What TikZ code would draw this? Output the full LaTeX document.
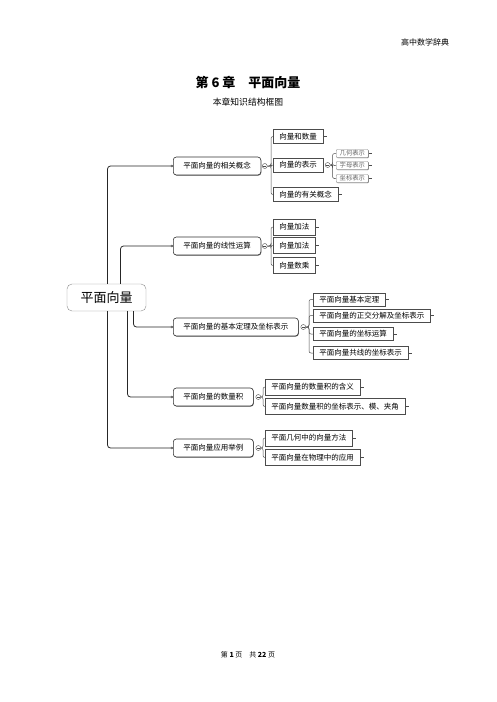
\documentclass[tikz,border=0pt]{standalone}
\usepackage{fontspec}
\setmainfont{Noto Sans CJK SC}
\usetikzlibrary{arrows.meta,shadows,positioning}

\begin{document}
\begin{tikzpicture}[x=1pt, y=-1pt,
    root/.style={draw=black!45, rounded corners=5pt, fill=white, minimum width=79pt, minimum height=27pt, inner sep=0pt, font=\fontsize{13}{14}\selectfont},
    topic/.style={draw=black!80, line width=.6pt, rounded corners=3pt, fill=white, anchor=west, inner xsep=10pt, minimum height=18pt, font=\fontsize{7.5}{8}\selectfont, drop shadow={shadow xshift=.5pt, shadow yshift=-.6pt, fill=black!60, opacity=1}},
    item/.style={draw=black!70, line width=.5pt, fill=white, anchor=west, inner xsep=6pt, minimum height=14pt, inner ysep=0pt, font=\fontsize{7.5}{8}\selectfont, drop shadow={shadow xshift=.6pt, shadow yshift=-.6pt, fill=black!75, opacity=1}},
    leaf/.style={draw=black!50, line width=.4pt, rounded corners=1pt, fill=white, anchor=west, inner xsep=3.5pt, inner ysep=0pt, minimum height=8pt, text=black!60, font=\fontsize{6.3}{7}\selectfont, drop shadow={shadow xshift=.5pt, shadow yshift=-.5pt, fill=black!60, opacity=1}},
    marker/.style={circle, draw=black!70, line width=.4pt, fill=white, minimum size=5pt, inner sep=0pt, path picture={\draw[black!70, line width=.4pt] ([xshift=1pt]path picture bounding box.west) -- ([xshift=-1pt]path picture bounding box.east);}},
    branch/.style={draw=black!85, line width=.8pt, rounded corners=3pt, -{Circle[open, length=2.4pt, width=2.4pt, line width=.4pt]}},
    link/.style={draw=black!70, line width=.5pt, rounded corners=2pt},
    stub/.style={draw=black!70, line width=.5pt}]
    \useasboundingbox (0,0) rectangle (496,702);

    % page texts
    \node (header) at (425,42) {\fontsize{8}{9}\selectfont 高中数学辞典};
    \node (title) at (248,82) {\fontsize{13}{14}\selectfont\bfseries 第 6 章\quad 平面向量};
    \node (subtitle) [below=3pt of title] {\fontsize{8.8}{10}\selectfont 本章知识结构框图};
    \node (footer) at (248,655) {\fontsize{7}{8}\selectfont 第 \textbf{1} 页\quad 共 \textbf{22} 页};

    % root and main topics
    \node [root] (root) at (106.5,297.5) {平面向量};
    \node [topic] (gainian) at (173,166) {平面向量的相关概念};
    \node [topic] (xianxing) at (173,246) {平面向量的线性运算};
    \node [topic] (dingli) at (173,327) {平面向量的基本定理及坐标表示};
    \node [topic] (shuliang) at (173,397) {平面向量的数量积};
    \node [topic] (yingyong) at (173,448) {平面向量应用举例};

    % lines from the root
    \path [branch] ([xshift=1pt]root.north) |- (gainian.west);
    \path [branch] ([xshift=14pt]root.north) |- (xianxing.west);
    \path [branch] ([xshift=27pt]root.south) |- (dingli.west);
    \path [branch] ([xshift=21pt]root.south) |- (shuliang.west);
    \path [branch] ([xshift=1pt]root.south) |- (yingyong.west);

    % sub topics
    \node [item] (hesl) at (273,136.5) {向量和数量};
    \node [item] (biaoshi) at (273,165) {向量的表示};
    \node [item] (youguan) at (273,194.5) {向量的有关概念};
    \node [leaf] (jihe) at (336,153.5) {几何表示};
    \node [leaf] (zimu) at (336,165.5) {字母表示};
    \node [leaf] (zuobiao) at (336,178.5) {坐标表示};

    \node [item, minimum height=16pt] (jiafa) at (273,227) {向量加法};
    \node [item, minimum height=16pt] (jianfa) at (273,245.5) {向量加法};
    \node [item, minimum height=16pt] (shucheng) at (273,265.5) {向量数乘};

    \node [item, minimum height=13pt] (jiben) at (313,299.5) {平面向量基本定理};
    \node [item, minimum height=13pt] (zhengjiao) at (313,315.5) {平面向量的正交分解及坐标表示};
    \node [item, minimum height=13pt] (yunsuan) at (313,334) {平面向量的坐标运算};
    \node [item, minimum height=13pt] (gongxian) at (313,353) {平面向量共线的坐标表示};

    \node [item, minimum height=16pt] (hanyi) at (265,387) {平面向量的数量积的含义};
    \node [item, minimum height=16pt] (mojiao) at (265,406.5) {平面向量数量积的坐标表示、模、夹角};

    \node [item, minimum height=16pt] (fangfa) at (265,438) {平面几何中的向量方法};
    \node [item, minimum height=16pt] (wuli) at (265,457.5) {平面向量在物理中的应用};

    % collapse markers
    \node [marker] (m1) [right=1pt of gainian] {};
    \node [marker] (m2) [right=1pt of xianxing] {};
    \node [marker] (m3) [right=2pt of dingli] {};
    \node [marker] (m4) [right=2pt of shuliang] {};
    \node [marker] (m5) [right=2pt of yingyong] {};
    \node [marker] (m12) [right=2pt of biaoshi] {};

    % brackets
    \foreach \c in {hesl,biaoshi,youguan}
        \draw [link] (m1.east) -| ([xshift=-2pt]\c.west) -- (\c.west);
    \foreach \c in {jihe,zimu,zuobiao}
        \draw [link] (m12.east) -| ([xshift=-3.5pt]\c.west) -- (\c.west);
    \foreach \c in {jiafa,jianfa,shucheng}
        \draw [link] (m2.east) -| ([xshift=-2pt]\c.west) -- (\c.west);
    \foreach \c in {jiben,zhengjiao,yunsuan,gongxian}
        \draw [link] (m3.east) -| ([xshift=-4pt]\c.west) -- (\c.west);
    \foreach \c in {hanyi,mojiao}
        \draw [link] (m4.east) -| ([xshift=-2pt]\c.west) -- (\c.west);
    \foreach \c in {fangfa,wuli}
        \draw [link] (m5.east) -| ([xshift=-2pt]\c.west) -- (\c.west);

    % small stubs
    \foreach \n in {hesl,youguan,jihe,zimu,zuobiao,jiafa,jianfa,shucheng,jiben,zhengjiao,yunsuan,gongxian,hanyi,mojiao,fangfa,wuli}
        \draw [stub] ([xshift=.6pt]\n.east) -- ++(3,0);
\end{tikzpicture}
\end{document}
